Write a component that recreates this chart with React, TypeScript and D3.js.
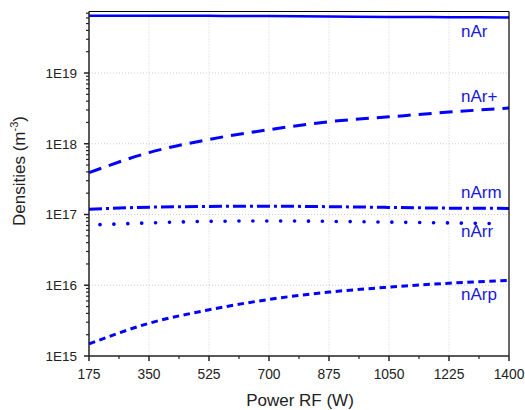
import React from "react";
import * as d3 from "d3";

const powers = [175, 350, 525, 700, 875, 1050, 1225, 1400];
const nAr = [6.45e19, 6.45e19, 6.42e19, 6.38e19, 6.3e19, 6.2e19, 6.15e19, 6.1e19];
const nArPlus = [3.9e17, 7.5e17, 1.15e18, 1.58e18, 2.05e18, 2.4e18, 2.8e18, 3.2e18];
const nArm = [1.19e17, 1.27e17, 1.3e17, 1.31e17, 1.29e17, 1.26e17, 1.23e17, 1.22e17];
const nArrPowers = [207, 350, 525, 700, 875, 1050, 1225, 1380];
const nArr = [7.2e16, 7.6e16, 8.0e16, 8.1e16, 8.0e16, 7.8e16, 7.6e16, 7.4e16];
const nArp = [1.48e15, 2.9e15, 4.5e15, 6.3e15, 8.0e15, 9.4e15, 1.07e16, 1.17e16];

const xTicks = [175, 350, 525, 700, 875, 1050, 1225, 1400];
const yTicks = [1e15, 1e16, 1e17, 1e18, 1e19];
const yTickLabels = ["1E15", "1E16", "1E17", "1E18", "1E19"];

const seriesNames = ["nAr", "nAr+", "nArm", "nArr", "nArp"];

const W = 525, H = 410;
const left = 89, right = 509, top = 11.5, bottom = 356;

export default function App() {
  const x = d3.scaleLinear().domain([175, 1400]).range([left, right]);
  const y = d3.scaleLog().domain([1e15, 7.4e19]).range([bottom, top]);

  const mk = (xs: number[], ys: number[]) =>
    d3.line<number>().x((_, i) => x(xs[i])).y((v) => y(v)).curve(d3.curveMonotoneX)(ys) || "";

  const blue = "#0000ff";
  const textBlue = "#1a1ad6";
  const font = "Liberation Sans, Arial, sans-serif";

  const minorY: number[] = [];
  for (let e = 15; e <= 19; e++) {
    for (let m = 2; m <= 9; m++) {
      const v = m * Math.pow(10, e);
      if (v <= 7.4e19) minorY.push(v);
    }
  }
  const minorX: number[] = [];
  for (let i = 0; i < xTicks.length - 1; i++) minorX.push((xTicks[i] + xTicks[i + 1]) / 2);

  const series = [
    { d: mk(powers, nAr), dash: "none", w: 2.5, cap: "butt" },
    { d: mk(powers, nArPlus), dash: "13 8", w: 3, cap: "butt" },
    { d: mk(powers, nArm), dash: "13 4 3 4", w: 3, cap: "butt" },
    { d: mk(nArrPowers, nArr), dash: "0.1 13.8", w: 3.6, cap: "round" },
    { d: mk(powers, nArp), dash: "6.5 4.5", w: 3, cap: "butt" },
  ];
  const labelBaselines = [37, 102, 198, 237, 300];

  return (
    <svg width={W} height={H} style={{ position: "absolute", left: 0, top: 0, background: "#fff" }} fontFamily={font}>
      <rect x={0} y={0} width={W} height={H} fill="#fff" />
      {xTicks.slice(1, -1).map((t) => (
        <line key={"gx" + t} x1={x(t)} x2={x(t)} y1={top} y2={bottom} stroke="#cfcfcf" strokeDasharray="1 2" strokeWidth={1} />
      ))}
      {yTicks.slice(1).map((t) => (
        <line key={"gy" + t} x1={left} x2={right} y1={y(t)} y2={y(t)} stroke="#cfcfcf" strokeDasharray="1 2" strokeWidth={1} />
      ))}
      <g fill="none" stroke={blue}>
        {series.map((s, i) => (
          <path key={i} d={s.d} strokeWidth={s.w} strokeDasharray={s.dash} strokeLinecap={s.cap as any} />
        ))}
      </g>
      <line x1={left} x2={right} y1={top} y2={top} stroke="#000" strokeWidth={1.2} />
      <line x1={right} x2={right} y1={top} y2={bottom} stroke="#000" strokeWidth={1.2} />
      <line x1={left} x2={left} y1={top} y2={bottom} stroke="#222" strokeWidth={1.5} />
      <line x1={left} x2={right} y1={bottom} y2={bottom} stroke="#222" strokeWidth={1.5} />
      {yTicks.map((t, i) => (
        <g key={"yt" + t}>
          <line x1={left - 5} x2={left} y1={y(t)} y2={y(t)} stroke="#222" strokeWidth={1.5} />
          <text x={77} y={y(t) + 5} textAnchor="end" fontSize={13.5} fill="#222">{yTickLabels[i]}</text>
        </g>
      ))}
      {minorY.map((t) => (
        <line key={"ym" + t} x1={left - 3} x2={left} y1={y(t)} y2={y(t)} stroke="#222" strokeWidth={1.2} />
      ))}
      {xTicks.map((t) => (
        <g key={"xt" + t}>
          <line x1={x(t)} x2={x(t)} y1={bottom} y2={bottom + 5} stroke="#222" strokeWidth={1.5} />
          <text x={x(t)} y={379} textAnchor="middle" fontSize={13.8} fill="#222">{t}</text>
        </g>
      ))}
      {minorX.map((t) => (
        <line key={"xm" + t} x1={x(t)} x2={x(t)} y1={bottom} y2={bottom + 3} stroke="#222" strokeWidth={1.2} />
      ))}
      {seriesNames.map((n, i) => (
        <text key={n} x={461} y={labelBaselines[i]} fontSize={17} fill={textBlue}>{n}</text>
      ))}
      <text x={300} y={406} textAnchor="middle" fontSize={17} fill="#222">Power RF (W)</text>
      <text transform="translate(25,171) rotate(-90)" textAnchor="middle" fontSize={17} fill="#222">
        Densities (m<tspan fontSize={11} dy={-7}>-3</tspan><tspan dy={7}>)</tspan>
      </text>
    </svg>
  );
}
